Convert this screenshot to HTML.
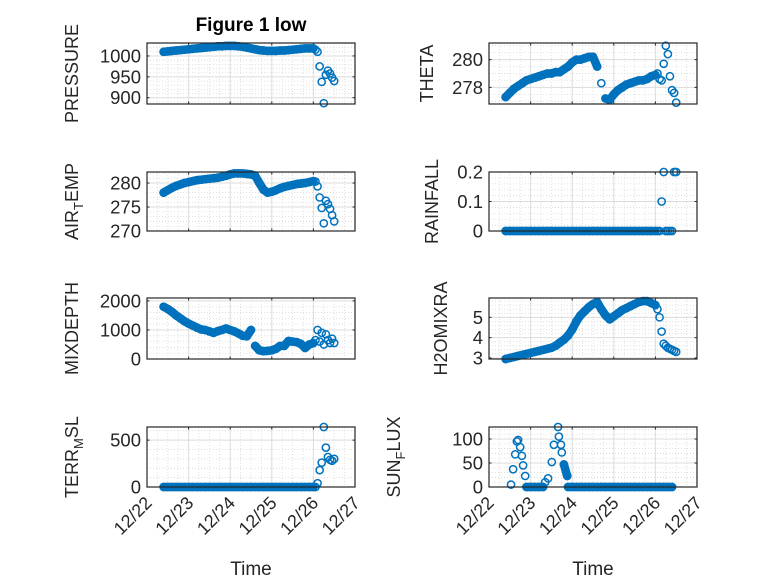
<!DOCTYPE html>
<html><head><meta charset="utf-8"><style>
html,body{margin:0;padding:0;background:#fff;}
svg{display:block;font-family:"Liberation Sans",sans-serif;}
</style></head><body>
<svg id="fig" width="778" height="583" viewBox="0 0 778 583"></svg>
<script>
// shared time axis (days since 12/22 00:00)
const times = [0.4,0.5,0.6,0.7,0.8,0.9,1.0,1.1,1.2,1.3,1.4,1.5,1.6,1.7,1.8,1.9,2.0,2.1,2.2,2.3,2.4,2.5,2.6,2.7,2.8,2.9,3.0,3.1,3.2,3.3,3.4,3.5,3.6,3.7,3.8,3.9,4.0,4.05,4.1,4.15,4.2,4.25,4.3,4.35,4.4,4.45,4.5];
const pressure = [1010,1011,1012,1013,1014,1015,1016,1017,1018,1019,1020,1021,1022,1023,1023,1024,1024,1024,1023,1022,1020,1018,1016,1014,1013,1012,1012,1012,1013,1013,1014,1015,1016,1017,1018,1018,1018,1015,1010,975,938,887,955,965,958,948,940];
const theta = [277.3,277.6,277.9,278.1,278.3,278.5,278.6,278.7,278.8,278.9,279.0,279.0,279.1,279.1,279.3,279.5,279.8,280.0,280.0,280.1,280.2,280.2,279.5,278.3,277.2,277.1,277.5,277.8,278.0,278.2,278.3,278.4,278.5,278.5,278.6,278.8,278.9,279.0,278.6,278.5,279.7,281.0,280.4,278.8,277.8,277.6,276.9];
const airTemp = [278.0,278.5,279.0,279.4,279.7,280.0,280.2,280.4,280.6,280.7,280.8,280.9,281.0,281.1,281.3,281.5,281.8,282.0,282.0,282.0,281.9,281.8,281.5,280.0,278.6,278.0,278.2,278.5,278.9,279.2,279.4,279.6,279.8,279.9,280.0,280.2,280.4,280.3,279.3,277.0,274.8,271.6,276.3,275.6,274.6,273.3,272.0];
const rainfall = [0,0,0,0,0,0,0,0,0,0,0,0,0,0,0,0,0,0,0,0,0,0,0,0,0,0,0,0,0,0,0,0,0,0,0,0,0,0,0,0.1,0.2,0,0,0,0,0.2,0.2];
const mixDepth = [1800,1720,1620,1500,1400,1300,1220,1150,1080,1020,1000,950,900,960,1000,1050,1000,950,880,800,780,1000,450,300,270,280,300,350,450,450,620,600,580,520,380,500,550,650,1000,600,900,500,850,650,550,700,550];
const h2oMix = [2.95,3.0,3.05,3.1,3.15,3.2,3.25,3.3,3.35,3.4,3.45,3.5,3.6,3.75,3.9,4.1,4.4,4.8,5.1,5.3,5.5,5.65,5.75,5.4,5.1,4.9,5.05,5.2,5.35,5.45,5.55,5.65,5.75,5.8,5.8,5.7,5.6,5.4,5.0,4.3,3.7,3.6,3.5,3.45,3.4,3.35,3.3];
const terrMsl = [0,0,0,0,0,0,0,0,0,0,0,0,0,0,0,0,0,0,0,0,0,0,0,0,0,0,0,0,0,0,0,0,0,0,0,0,0,0,40,180,260,640,420,320,290,280,300];
// sun flux has its own time base
const sunTimes = [0.53,0.58,0.63,0.67,0.70,0.75,0.79,0.82,0.87,0.9,1.0,1.1,1.2,1.3,1.35,1.42,1.51,1.56,1.66,1.68,1.73,1.75,1.80,1.88,1.9,2.0,2.1,2.2,2.3,2.4,2.5,2.6,2.7,2.8,2.9,3.0,3.1,3.2,3.3,3.4,3.5,3.6,3.7,3.8,3.9,4.0,4.1,4.2,4.3,4.4];
const sunFlux = [5,37,68,95,98,83,65,45,23,0,0,0,0,0,10,18,52,88,125,105,88,72,47,23,0,0,0,0,0,0,0,0,0,0,0,0,0,0,0,0,0,0,0,0,0,0,0,0,0,0];
const xTickLabels = ["12/22","12/23","12/24","12/25","12/26","12/27"];
const xTickDays = [0,1,2,3,4,5];
const pTicks=[900,950,1000], thTicks=[278,280], atTicks=[270,275,280], rfTicks=[0,0.1,0.2], mdTicks=[0,1000,2000], h2Ticks=[3,4,5], tmTicks=[0,500], sfTicks=[0,50,100];
const rfTickLabels=["0","0.1","0.2"];

const NS="http://www.w3.org/2000/svg";
const svg=document.getElementById('fig');
function mk(tag,attrs,parent){const e=document.createElementNS(NS,tag);for(const k in attrs)e.setAttribute(k,attrs[k]);(parent||svg).appendChild(e);return e;}
const BLUE="#0072BD", AX="#262626";

const panels=[
 {key:"pressure",x0:147,x1:355,y0:43,y1:104,ymin:885,ymax:1031,t:times,v:pressure,ticks:pTicks,minor:10,label:["PRESSURE"],lx:78,bottom:false},
 {key:"theta",x0:489,x1:697,y0:43,y1:104,ymin:276.8,ymax:281.2,t:times,v:theta,ticks:thTicks,minor:0.5,label:["THETA"],lx:433,bottom:false},
 {key:"air-temp",x0:147,x1:355,y0:172,y1:231,ymin:270,ymax:282.3,t:times,v:airTemp,ticks:atTicks,minor:1,label:["AIR","T","EMP"],lx:78,bottom:false},
 {key:"rainfall",x0:489,x1:697,y0:172,y1:231,ymin:0,ymax:0.2,t:times,v:rainfall,ticks:rfTicks,tl:rfTickLabels,minor:0.02,label:["RAINFALL"],lx:438,bottom:false},
 {key:"mixdepth",x0:147,x1:355,y0:298,y1:359,ymin:0,ymax:2100,t:times,v:mixDepth,ticks:mdTicks,minor:200,label:["MIXDEPTH"],lx:78,bottom:false},
 {key:"h2omixra",x0:489,x1:697,y0:298,y1:359,ymin:2.95,ymax:5.95,t:times,v:h2oMix,ticks:h2Ticks,minor:0.2,label:["H2OMIXRA"],lx:447,bottom:false},
 {key:"terr-msl",x0:147,x1:355,y0:427,y1:487,ymin:0,ymax:640,t:times,v:terrMsl,ticks:tmTicks,minor:100,label:["TERR","M","SL"],lx:78,bottom:true},
 {key:"sun-flux",x0:489,x1:697,y0:427,y1:487,ymin:0,ymax:125,t:sunTimes,v:sunFlux,ticks:sfTicks,minor:10,label:["SUN","F","LUX"],lx:400,bottom:true}
];

panels.forEach(p=>{
  const g=mk('g',{});
  
  
  const xs=d=>p.x0+(d-0)/(5-0)*(p.x1-p.x0);
  const ys=v=>p.y1-(v-p.ymin)/(p.ymax-p.ymin)*(p.y1-p.y0);
  mk('rect',{x:p.x0,y:p.y0,width:p.x1-p.x0,height:p.y1-p.y0,fill:"#fff"},g);
  for(let d=0;d<=5.001;d+=0.25){ if(Math.abs(d-Math.round(d))<1e-6) continue;
    mk('line',{x1:xs(d),x2:xs(d),y1:p.y0,y2:p.y1,stroke:"#d4d4d4","stroke-width":0.7,"stroke-dasharray":"1,2"},g);}
  const start=Math.ceil(p.ymin/p.minor)*p.minor;
  for(let v=start;v<=p.ymax+1e-9;v+=p.minor){
    if(p.ticks.some(t=>Math.abs(t-v)<p.minor*0.01)) continue;
    mk('line',{x1:p.x0,x2:p.x1,y1:ys(v),y2:ys(v),stroke:"#d4d4d4","stroke-width":0.7,"stroke-dasharray":"1,2"},g);}
  xTickDays.forEach(d=>mk('line',{x1:xs(d),x2:xs(d),y1:p.y0,y2:p.y1,stroke:"#dcdcdc","stroke-width":1},g));
  p.ticks.forEach(v=>mk('line',{x1:p.x0,x2:p.x1,y1:ys(v),y2:ys(v),stroke:"#dcdcdc","stroke-width":1},g));
  xTickDays.forEach(d=>{mk('line',{x1:xs(d),x2:xs(d),y1:p.y1,y2:p.y1-2.5,stroke:AX},g);mk('line',{x1:xs(d),x2:xs(d),y1:p.y0,y2:p.y0+2.5,stroke:AX},g);});
  p.ticks.forEach((v,i)=>{
    mk('line',{x1:p.x0,x2:p.x0+2.5,y1:ys(v),y2:ys(v),stroke:AX},g);
    mk('line',{x1:p.x1,x2:p.x1-2.5,y1:ys(v),y2:ys(v),stroke:AX},g);
    const t=mk('text',{x:p.x0-6,y:ys(v)+6.5,"text-anchor":"end","font-size":18.5,fill:AX},g);
    
    
    t.textContent=p.tl?p.tl[i]:String(v);
  });
  const clip='clip-'+p.key;
  const cp=mk('clipPath',{id:clip},g); mk('rect',{x:p.x0-5,y:p.y0-5,width:p.x1-p.x0+10,height:p.y1-p.y0+10},cp);
  const dg=mk('g',{"clip-path":"url(#"+clip+")"},g);
  
  
  let seg=[];
  const flush=()=>{ if(seg.length>1) mk('polyline',{points:seg.join(' '),fill:"none",stroke:BLUE,"stroke-width":8.5,"stroke-linejoin":"round","stroke-linecap":"round"},dg); seg=[]; };
  for(let i=0;i<p.t.length;i++){
    if(i>0 && (p.t[i]-p.t[i-1]>0.105 || Math.abs(ys(p.v[i])-ys(p.v[i-1]))>12 || p.t[i]-p.t[i-1]<0.075)) flush();
    seg.push(xs(p.t[i]).toFixed(1)+','+ys(p.v[i]).toFixed(1));
  }
  flush();
  p.t.forEach((d,i)=>{
    const c=mk('circle',{cx:xs(d),cy:ys(p.v[i]),r:3.6,fill:"none",stroke:BLUE,"stroke-width":1.5},dg);
    
    
  });
  mk('rect',{x:p.x0,y:p.y0,width:p.x1-p.x0,height:p.y1-p.y0,fill:"none",stroke:AX,"stroke-width":1.2},g);
  const cy=(p.y0+p.y1)/2;
  const yl=mk('text',{x:0,y:0,"text-anchor":"middle","font-size":18,fill:AX,transform:`translate(${p.lx},${cy}) rotate(-90)`},g);
  
  
  if(p.label.length===1) yl.textContent=p.label[0];
  else{
    mk('tspan',{},yl).textContent=p.label[0];
    mk('tspan',{dy:5,"font-size":13},yl).textContent=p.label[1];
    mk('tspan',{dy:-5},yl).textContent=p.label[2];
  }
  if(p.bottom){
    xTickDays.forEach((d,i)=>{
      const t=mk('text',{x:0,y:0,"text-anchor":"end","font-size":18,fill:AX,transform:`translate(${xs(d)+6},${p.y1+17}) rotate(-45)`},g);
      
      
      t.textContent=xTickLabels[i];
    });
    const xl=mk('text',{x:(p.x0+p.x1)/2,y:575,"text-anchor":"middle","font-size":19,fill:AX},g);
    
    
    xl.textContent="Time";
  }
});
const title=mk('text',{x:251,y:31,"text-anchor":"middle","font-size":19,"font-weight":"bold",fill:"#000"});


title.textContent="Figure 1 low";
</script>
</body></html>
